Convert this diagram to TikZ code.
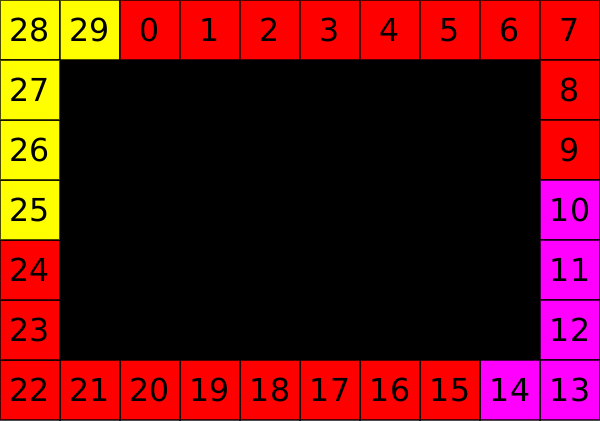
\documentclass[tikz,border=0pt]{standalone}
\usepackage{fontspec}
\setmainfont{DejaVu Sans}
\definecolor{cy}{RGB}{255,255,0}
\definecolor{cr}{RGB}{255,0,0}
\definecolor{cm}{RGB}{255,0,255}
\begin{document}
\begin{tikzpicture}[x=1cm,y=-1cm,
  cell/.style={draw=black,draw opacity=0.7,line width=0.5pt,minimum width=1cm,minimum height=1cm,inner sep=0pt,font=\fontsize{15pt}{17pt}\selectfont,anchor=center},
  ycell/.style={cell,fill=cy},
  rcell/.style={cell,fill=cr},
  mcell/.style={cell,fill=cm}]
\useasboundingbox (0,0) rectangle (10,7);
\fill[black] (1,1) rectangle (9,6);
% top row
\node[ycell] (c28) at (0.5,0.5) {28};
\node[ycell] (c29) at (1.5,0.5) {29};
\foreach \i in {0,...,7} {
  \node[rcell] (c\i) at ({2.5+\i},0.5) {\i};
}
% right column
\node[rcell] (c8) at (9.5,1.5) {8};
\node[rcell] (c9) at (9.5,2.5) {9};
\node[mcell] (c10) at (9.5,3.5) {10};
\node[mcell] (c11) at (9.5,4.5) {11};
\node[mcell] (c12) at (9.5,5.5) {12};
% bottom row
\node[mcell] (c13) at (9.5,6.5) {13};
\node[mcell] (c14) at (8.5,6.5) {14};
\foreach \i in {15,...,22} {
  \node[rcell] (c\i) at ({7.5-(\i-15)},6.5) {\i};
}
% left column
\node[rcell] (c23) at (0.5,5.5) {23};
\node[rcell] (c24) at (0.5,4.5) {24};
\node[ycell] (c25) at (0.5,3.5) {25};
\node[ycell] (c26) at (0.5,2.5) {26};
\node[ycell] (c27) at (0.5,1.5) {27};
\end{tikzpicture}
\end{document}
